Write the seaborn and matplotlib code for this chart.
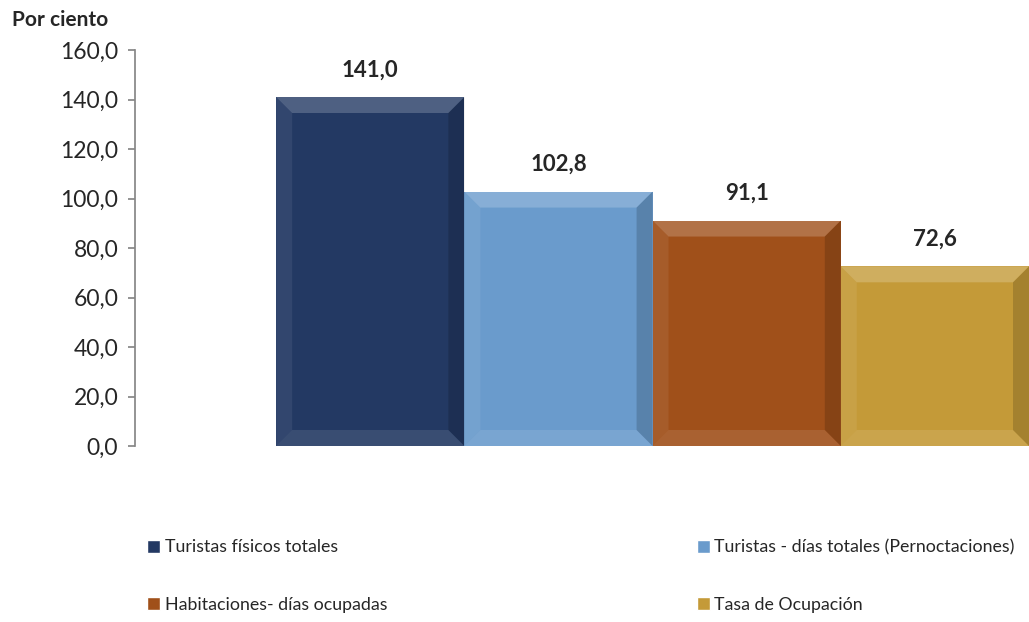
import matplotlib
matplotlib.use("Agg")
import matplotlib.pyplot as plt
from matplotlib.patches import Polygon
import pandas as pd
import seaborn as sns

series = ["Turistas físicos totales", "Turistas - días totales (Pernoctaciones)",
          "Habitaciones- días ocupadas", "Tasa de Ocupación"]
values = [141.0, 102.8, 91.1, 72.6]
colors = ["#233963", "#6a9bcc", "#a0501a", "#c49a38"]
yticks = [0, 20, 40, 60, 80, 100, 120, 140, 160]

sns.set_theme(style="white")
plt.rcParams["font.family"] = ["Lato", "DejaVu Sans"]

df = pd.DataFrame({"grupo": ["" for _ in series], "serie": series, "valor": values})

fig = plt.figure(figsize=(10.29, 6.22), dpi=100)
ax = fig.add_axes([135 / 1029, 176 / 622, 894 / 1029, 396 / 622])

sns.barplot(data=df, x="grupo", y="valor", hue="serie", hue_order=series,
            palette=colors, width=0.8, ax=ax, saturation=1, legend=True)

ax.set_ylim(0, 160)
ax.set_xlim(-0.55, 0.4)
ax.set_yticks(yticks)
ax.set_yticklabels([f"{v:.1f}".replace(".", ",") for v in yticks], fontsize=16.5)
ax.set_xticks([])
ax.set_xlabel("")
ax.set_ylabel("")
for s in ["top", "right", "bottom"]:
    ax.spines[s].set_visible(False)
ax.spines["left"].set_color("#868686")
ax.tick_params(axis="y", length=5, color="#868686", left=True, pad=7)

# bevel look: lighter top/left, darker right/bottom, sized in pixels
fig.canvas.draw()
inv = ax.transData.inverted()
bars = [p for p in ax.patches if p.get_height() > 0]
for p in bars:
    x0, y0 = p.get_x(), p.get_y()
    x1, y1 = x0 + p.get_width(), y0 + p.get_height()
    px0, py0 = ax.transData.transform((x0, y0))
    px1, py1 = ax.transData.transform((x1, y1))
    b = 16
    ix0, iy0 = inv.transform((px0 + b, py0 + b))
    ix1, iy1 = inv.transform((px1 - b, py1 - b))
    faces = [
        ([(x0, y1), (x1, y1), (ix1, iy1), (ix0, iy1)], "white", 0.2),
        ([(x0, y0), (x0, y1), (ix0, iy1), (ix0, iy0)], "white", 0.07),
        ([(x1, y0), (x1, y1), (ix1, iy1), (ix1, iy0)], "black", 0.16),
        ([(x0, y0), (x1, y0), (ix1, iy0), (ix0, iy0)], "white", 0.1),
    ]
    for pts, c, a in faces:
        ax.add_patch(Polygon(pts, closed=True, facecolor=c, alpha=a, lw=0))
    p.set_linewidth(0)
    ax.annotate(f"{y1:.1f}".replace(".", ","), (x0 + p.get_width() / 2, y1),
                xytext=(0, 12), textcoords="offset points",
                ha="center", va="bottom", fontsize=16, fontweight="bold")

fig.text(12 / 1029, 1 - 20 / 622, "Por ciento", fontsize=15, fontweight="bold",
         ha="left", va="center")

handles, labels = ax.get_legend_handles_labels()
order = [0, 2, 1, 3]
ax.legend([handles[i] for i in order], [labels[i] for i in order], ncol=2,
          loc="upper left", bbox_to_anchor=(140 / 1029, 1 - 532 / 622),
          bbox_transform=fig.transFigure, frameon=False, fontsize=12.8,
          handlelength=0.75, handleheight=0.75, handletextpad=0.25,
          columnspacing=17.4, labelspacing=2.35, borderaxespad=0)

fig.savefig("out.png", dpi=100)
